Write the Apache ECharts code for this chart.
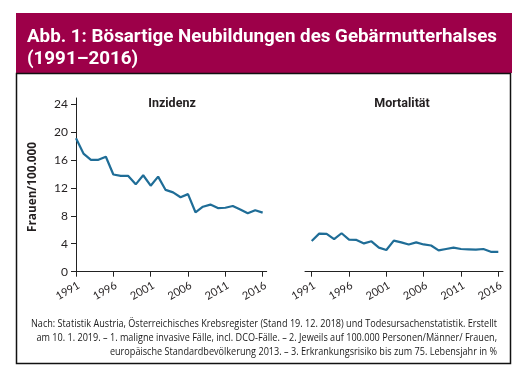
<!DOCTYPE html>
<html><head><meta charset="utf-8">
<script src="https://cdn.jsdelivr.net/npm/echarts@6/dist/echarts.min.js"></script>
<style>html,body{margin:0;padding:0;background:#fff}#c{width:523px;height:379px}</style>
</head><body><div id="c"></div>
<script>
const years = [1991,1992,1993,1994,1995,1996,1997,1998,1999,2000,2001,2002,2003,2004,2005,2006,2007,2008,2009,2010,2011,2012,2013,2014,2015,2016];
const inzidenz = [19.1,16.9,16.0,16.0,16.45,13.9,13.7,13.7,12.5,13.8,12.3,13.6,11.7,11.35,10.65,11.1,8.5,9.3,9.6,9.1,9.15,9.4,8.9,8.35,8.8,8.45];
const mortalitaet = [4.4,5.45,5.4,4.65,5.5,4.6,4.55,4.05,4.35,3.45,3.1,4.45,4.2,3.9,4.2,3.9,3.75,3.05,3.25,3.45,3.25,3.2,3.15,3.25,2.85,2.85];
const xTicks = [1991,1996,2001,2006,2011,2016];
const yTicks = [0,4,8,12,16,20,24];
const panelTitles = ['Inzidenz','Mortalität'];
const yAxisName = 'Frauen/100.000';
const titleLines = ['Abb. 1: Bösartige Neubildungen des Gebärmutterhalses','(1991–2016)'];
const footnoteLines = [
 'Nach: Statistik Austria, Österreichisches Krebsregister (Stand 19. 12. 2018) und Todesursachenstatistik. Erstellt',
 'am 10. 1. 2019. – 1. maligne invasive Fälle, incl. DCO-Fälle. – 2. Jeweils auf 100.000 Personen/Männer/ Frauen,',
 'europäische Standardbevölkerung 2013. – 3. Erkrankungsrisiko bis zum 75. Lebensjahr in %'
];

const ctx = document.createElement('canvas').getContext('2d');
function fitScale(text, font, target){ ctx.font = font; return target / ctx.measureText(text).width; }

const TFONT = 'bold 17.5px Roboto';
const tScale = fitScale(titleLines[0], TFONT, 470);
const FFONT = '10px "Open Sans"';
const fScale = fitScale(footnoteLines[0], FFONT, 466);
const PFONT = 'bold 12.5px Roboto';
const YFONT = 'bold 12px "Open Sans"';
const yScale = fitScale(yAxisName, YFONT, 90);

const inzData = years.map((y,i)=>[y, inzidenz[i]]);
const morData = years.map((y,i)=>[y, mortalitaet[i]]);

const textColor = '#231f20';
const lineColor = '#1f6d97';

function xAx(gi, min, max){
  return {type:'value', gridIndex:gi, min:min, max:max,
    axisLine:{show:true, onZero:false, lineStyle:{color:'#222', width:1}},
    axisTick:{show:true, customValues:xTicks, length:5, lineStyle:{color:'#222'}},
    axisLabel:{customValues:xTicks, rotate:30, margin:8, align:'right', verticalAlign:'top', fontSize:11, fontFamily:'Lato', color:textColor, formatter:v=>String(v)},
    splitLine:{show:false}};
}

const chart = echarts.init(document.getElementById('c'), null, {renderer:'canvas'});
chart.setOption({
  animation:false,
  backgroundColor:'#fff',
  grid:[
    {left:76, top:98, width:190.7, height:173.7},
    {left:305, top:98, width:198, height:173.7}
  ],
  xAxis:[xAx(0,1991,2016.54), xAx(1,1990.1,2016.63)],
  yAxis:[
    {type:'value', gridIndex:0, min:0, max:24.85,
      axisLine:{show:true, lineStyle:{color:'#222', width:1}},
      axisTick:{show:true, customValues:yTicks, length:5, lineStyle:{color:'#222'}},
      axisLabel:{customValues:yTicks, margin:8, fontSize:12, fontFamily:'Lato', color:textColor},
      splitLine:{show:false}},
    {type:'value', gridIndex:1, min:0, max:24.85, show:false, splitLine:{show:false}}
  ],
  series:[
    {type:'line', xAxisIndex:0, yAxisIndex:0, data:inzData, showSymbol:false, lineStyle:{color:lineColor, width:2.2}, itemStyle:{color:lineColor}},
    {type:'line', xAxisIndex:1, yAxisIndex:1, data:morData, showSymbol:false, lineStyle:{color:lineColor, width:2.2}, itemStyle:{color:lineColor}}
  ],
  graphic:[
    {type:'rect', shape:{x:16, y:13, width:496, height:60}, style:{fill:'#9d0049'}, silent:true},
    {type:'text', x:27, y:38, scaleX:tScale, style:{text:titleLines[0], font:TFONT, fill:'#fff', textAlign:'left', textVerticalAlign:'middle'}},
    {type:'text', x:27, y:60, scaleX:tScale, style:{text:titleLines[1], font:TFONT, fill:'#fff', textAlign:'left', textVerticalAlign:'middle'}},
    {type:'rect', shape:{x:16.5, y:73.5, width:494, height:290}, style:{fill:'none', stroke:'#111', lineWidth:1.5}, silent:true},
    {type:'text', x:172, y:104, style:{text:panelTitles[0], font:PFONT, fill:textColor, textAlign:'center', textVerticalAlign:'middle'}},
    {type:'text', x:402, y:104, style:{text:panelTitles[1], font:PFONT, fill:textColor, textAlign:'center', textVerticalAlign:'middle'}},
    {type:'text', x:33, y:187, rotation:Math.PI/2, scaleX:yScale, style:{text:yAxisName, font:YFONT, fill:textColor, textAlign:'center', textVerticalAlign:'middle'}},
    {type:'text', x:497, y:324, scaleX:fScale, style:{text:footnoteLines[0], font:FFONT, fill:'#1a1a1a', textAlign:'right', textVerticalAlign:'middle'}},
    {type:'text', x:497, y:338, scaleX:fScale, style:{text:footnoteLines[1], font:FFONT, fill:'#1a1a1a', textAlign:'right', textVerticalAlign:'middle'}},
    {type:'text', x:497, y:352, scaleX:fScale, style:{text:footnoteLines[2], font:FFONT, fill:'#1a1a1a', textAlign:'right', textVerticalAlign:'middle'}}
  ]
});
</script></body></html>
